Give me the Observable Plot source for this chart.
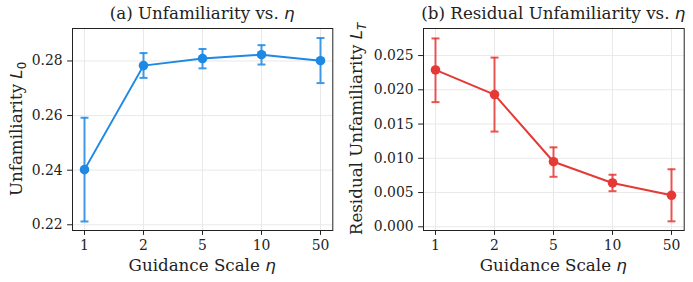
<!DOCTYPE html>
<html>
<head>
<meta charset="utf-8">
<script src="https://cdn.jsdelivr.net/npm/d3@7"></script>
<script src="https://cdn.jsdelivr.net/npm/@observablehq/plot@0.6"></script>
<style>
  body { margin: 0; background: #fff; }
  #chart { position: relative; width: 693px; height: 282px; overflow: hidden; }
  #chart svg { position: absolute; top: 0; }
</style>
</head>
<body>
<div id="chart"></div>
<script>
// Guidance scales (categorical x axis)
const guidance = ["1", "2", "5", "10", "50"];

// (a) Unfamiliarity L0: mean with lower / upper error bounds
const l0Mean = [0.2402, 0.2783, 0.2809, 0.2823, 0.2801];
const l0Low  = [0.2212, 0.2738, 0.2773, 0.2787, 0.2719];
const l0High = [0.2592, 0.2829, 0.2844, 0.2858, 0.2884];
const l0Ticks = [0.22, 0.24, 0.26, 0.28];

// (b) Residual unfamiliarity LT: mean with lower / upper error bounds
const ltMean = [0.0229, 0.0193, 0.0095, 0.0064, 0.0046];
const ltLow  = [0.0182, 0.0139, 0.0073, 0.0052, 0.0008];
const ltHigh = [0.0275, 0.0247, 0.0116, 0.0076, 0.0084];
const ltTicks = [0.000, 0.005, 0.010, 0.015, 0.020, 0.025];

const SERIF = "'DejaVu Serif', serif";
const SANS = "'DejaVu Sans', sans-serif";
const H = 282, TOP = 28, BOTTOM = 52;

// horizontal cap for error bars, half-width equal to r
const capSymbol = {
  draw(context, size) {
    const r = Math.sqrt(size / Math.PI);
    context.moveTo(-r, 0);
    context.lineTo(r, 0);
  }
};

function rows(mean, low, high) {
  return guidance.map((g, i) => ({g, mean: mean[i], low: low[i], high: high[i]}));
}

function panel({left, width, marginLeft, marginRight, data, yDomain, yTicks, fmt, color,
                title, ylabelMain, ylabelSub, ylabelX}) {
  const err = {stroke: color, strokeWidth: 2, strokeOpacity: 0.85};
  const svg = Plot.plot({
    width, height: H,
    marginLeft, marginRight, marginTop: TOP, marginBottom: BOTTOM,
    style: {fontFamily: SERIF, fontSize: "13.9px", color: "#222", background: "transparent", overflow: "visible"},
    x: {type: "point", domain: guidance, padding: 0.2, label: null, tickSize: 4.9, tickPadding: 5},
    y: {domain: yDomain, ticks: yTicks, tickFormat: d3.format(fmt), label: null, tickSize: 4.9, tickPadding: 5},
    marks: [
      Plot.gridX(guidance, {x: d => d, stroke: "#e6e6e6", strokeOpacity: 1, strokeWidth: 0.9}),
      Plot.gridY(yTicks, {y: d => d, stroke: "#e6e6e6", strokeOpacity: 1, strokeWidth: 0.9}),
      Plot.ruleX(data, {x: "g", y1: "low", y2: "high", ...err}),
      Plot.dot(data, {x: "g", y: "low", symbol: capSymbol, r: 4, fill: "none", ...err}),
      Plot.dot(data, {x: "g", y: "high", symbol: capSymbol, r: 4, fill: "none", ...err}),
      Plot.line(data, {x: "g", y: "mean", stroke: color, strokeWidth: 2}),
      Plot.dot(data, {x: "g", y: "mean", r: 4.8, fill: color, stroke: "none"}),
      Plot.frame({stroke: "#222", strokeWidth: 1})
    ]
  });
  svg.style.left = left + "px";
  const s = d3.select(svg);
  const cx = marginLeft + (width - marginLeft - marginRight) / 2;
  const cy = TOP + (H - TOP - BOTTOM) / 2;

  // panel title with italic eta
  const t = s.append("text").attr("x", cx).attr("y", 19).attr("text-anchor", "middle")
    .attr("font-family", SERIF).attr("font-size", "16.7px").attr("fill", "#222");
  t.append("tspan").text(title);
  t.append("tspan").attr("font-family", SANS).attr("font-style", "italic").text("η");

  // x axis label
  const xl = s.append("text").attr("x", cx).attr("y", 271).attr("text-anchor", "middle")
    .attr("font-family", SERIF).attr("font-size", "16.7px").attr("fill", "#222");
  xl.append("tspan").text("Guidance Scale ");
  xl.append("tspan").attr("font-family", SANS).attr("font-style", "italic").text("η");

  // y axis label with subscript
  const yl = s.append("text").attr("transform", `translate(${ylabelX},${cy}) rotate(-90)`)
    .attr("text-anchor", "middle").attr("font-family", SERIF).attr("font-size", "16.7px").attr("fill", "#222");
  yl.append("tspan").text(ylabelMain + " ");
  yl.append("tspan").attr("font-family", SANS).attr("font-style", "italic").text("L");
  yl.append("tspan").attr("font-family", SANS).attr("font-style", ylabelSub === "T" ? "italic" : "normal")
    .attr("font-size", "11.7px").attr("dy", "3.5").text(ylabelSub);

  document.getElementById("chart").appendChild(svg);
}

panel({
  left: 0, width: 346, marginLeft: 72, marginRight: 346 - 332.3,
  data: rows(l0Mean, l0Low, l0High), yDomain: [0.2179, 0.2919], yTicks: l0Ticks, fmt: ".2f",
  color: "#1e88e5", title: "(a) Unfamiliarity vs. ", ylabelMain: "Unfamiliarity", ylabelSub: "0", ylabelX: 22
});

panel({
  left: 346, width: 347, marginLeft: 423 - 346, marginRight: 693 - 683.7,
  data: rows(ltMean, ltLow, ltHigh), yDomain: [-0.00054, 0.02895], yTicks: ltTicks, fmt: ".3f",
  color: "#e53935", title: "(b) Residual Unfamiliarity vs. ", ylabelMain: "Residual Unfamiliarity", ylabelSub: "T", ylabelX: 16
});
</script>
</body>
</html>
